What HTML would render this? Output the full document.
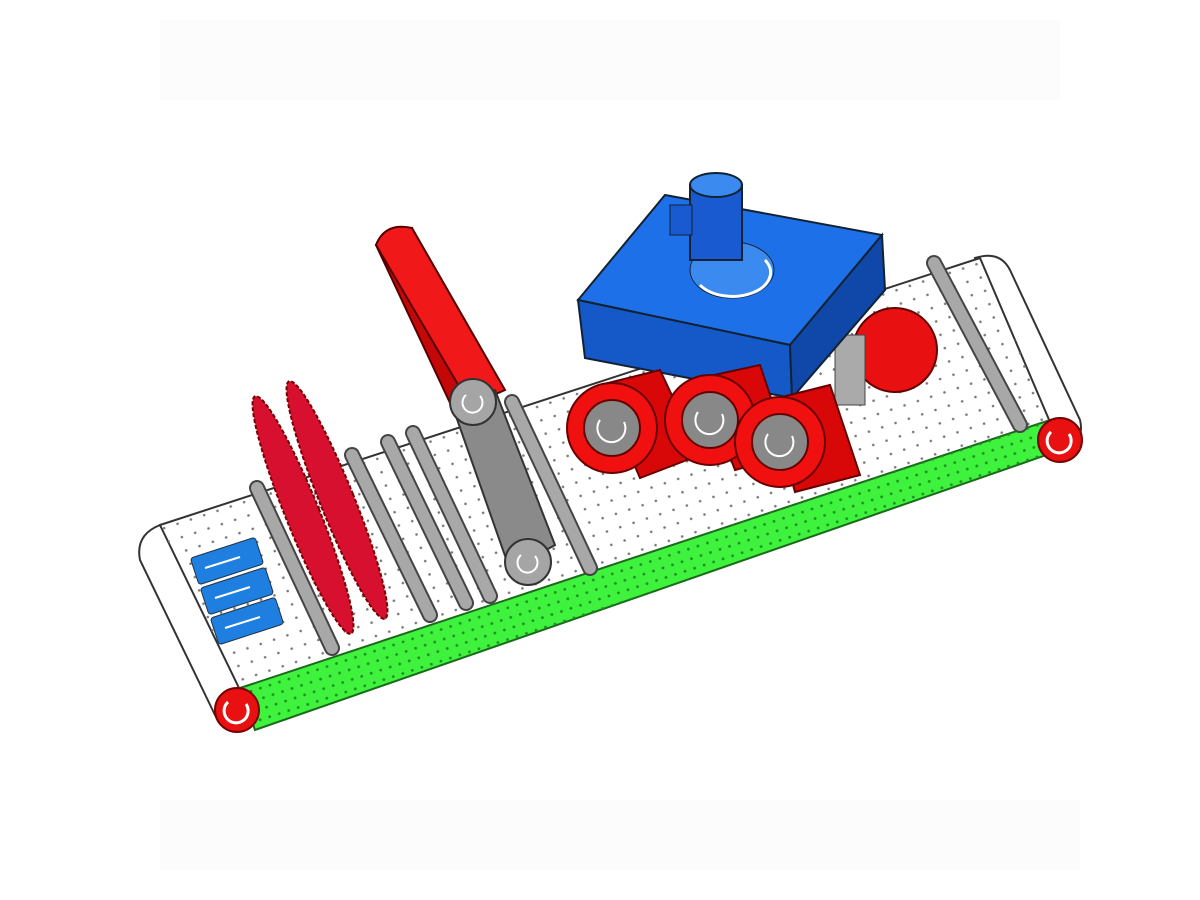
<!DOCTYPE html>
<html><head><meta charset="utf-8"><style>
html,body{margin:0;padding:0;background:#fff;width:1200px;height:900px;overflow:hidden}
</style></head><body>
<svg width="1200" height="900" viewBox="0 0 1200 900" xmlns="http://www.w3.org/2000/svg">
<defs>
<pattern id="dots" width="14" height="14" patternUnits="userSpaceOnUse" patternTransform="rotate(-18)">
<circle cx="7" cy="7" r="1.3" fill="#777"/></pattern>
<pattern id="gdots" width="10" height="10" patternUnits="userSpaceOnUse" patternTransform="rotate(-18)">
<circle cx="5" cy="5" r="1.4" fill="#1d8f1d"/></pattern>
</defs>
<rect x="160" y="20" width="900" height="80" fill="#fcfcfc"/>
<rect x="160" y="800" width="920" height="70" fill="#fcfcfc"/>
<!-- left end cap -->
<path d="M160 525 Q135 535 140 560 L215 715 Q225 735 245 730 L250 690 Z" fill="#fff" stroke="#333" stroke-width="2"/>
<!-- right end cap -->
<path d="M975 258 Q1000 250 1010 270 L1080 420 Q1085 440 1065 450 L1045 425 Z" fill="#fff" stroke="#333" stroke-width="2"/>
<!-- top surface -->
<polygon points="160,525 980,258 1050,422 240,690" fill="#fff" stroke="#333" stroke-width="2"/>
<polygon points="160,525 980,258 1050,422 240,690" fill="url(#dots)"/>
<!-- green side -->
<polygon points="240,688 1050,420 1075,445 255,730" fill="#3ef23e" stroke="#1a6a1a" stroke-width="2"/>
<polygon points="240,688 1050,420 1075,445 255,730" fill="url(#gdots)"/>
<!-- pulleys -->
<circle cx="237" cy="710" r="22" fill="#e81010" stroke="#700" stroke-width="2"/>
<path d="M228 702 A12 12 0 1 0 246 704" fill="none" stroke="#fff" stroke-width="3"/>
<circle cx="1060" cy="440" r="22" fill="#e81010" stroke="#700" stroke-width="2"/>
<path d="M1051 432 A12 12 0 1 0 1069 434" fill="none" stroke="#fff" stroke-width="3"/>
<!-- labels -->
<g fill="#1e7fe0" stroke="#234" stroke-width="1">
<rect x="193" y="547" width="68" height="28" rx="3" transform="rotate(-18 227 561)"/>
<rect x="203" y="577" width="68" height="28" rx="3" transform="rotate(-18 237 591)"/>
<rect x="213" y="607" width="68" height="28" rx="3" transform="rotate(-18 247 621)"/>
</g>
<g stroke="#fff" stroke-width="2">
<line x1="205" y1="568" x2="240" y2="557"/><line x1="215" y1="598" x2="250" y2="587"/><line x1="225" y1="628" x2="260" y2="617"/>
</g>
<!-- rods -->
<g stroke="#444" stroke-width="16" stroke-linecap="round">
<line x1="257" y1="488" x2="332" y2="648"/><line x1="352" y1="455" x2="430" y2="615"/>
<line x1="388" y1="442" x2="466" y2="603"/><line x1="413" y1="433" x2="490" y2="596"/>
<line x1="512" y1="402" x2="590" y2="568"/><line x1="934" y1="263" x2="1020" y2="425"/>
</g>
<g stroke="#a8a8a8" stroke-width="12" stroke-linecap="round">
<line x1="257" y1="488" x2="332" y2="648"/><line x1="352" y1="455" x2="430" y2="615"/>
<line x1="388" y1="442" x2="466" y2="603"/><line x1="413" y1="433" x2="490" y2="596"/>
<line x1="512" y1="402" x2="590" y2="568"/><line x1="934" y1="263" x2="1020" y2="425"/>
</g>
<!-- brushes -->
<g fill="#d81030" stroke="#700" stroke-width="2" stroke-dasharray="4 2">
<ellipse cx="303" cy="515" rx="17" ry="128" transform="rotate(-22 303 515)"/>
<ellipse cx="337" cy="500" rx="17" ry="128" transform="rotate(-22 337 500)"/>
</g>
<!-- tall red roller slab -->
<polygon points="376,245 412,228 548,540 520,565 458,420" fill="#c40808" stroke="#500" stroke-width="2"/>
<path d="M376 245 Q385 222 412 228 L505 390 L470 405 Z" fill="#f01818" stroke="#500" stroke-width="2"/>
<!-- gray roller -->
<polygon points="452,405 495,390 555,545 510,570" fill="#8a8a8a" stroke="#333" stroke-width="2"/>
<circle cx="473" cy="402" r="23" fill="#a5a5a5" stroke="#333" stroke-width="2"/>
<path d="M466 395 A10 10 0 1 0 480 396" fill="none" stroke="#fff" stroke-width="2"/>
<circle cx="528" cy="562" r="23" fill="#a5a5a5" stroke="#333" stroke-width="2"/>
<path d="M521 555 A10 10 0 1 0 535 556" fill="none" stroke="#fff" stroke-width="2"/>
<!-- back red wheels -->
<circle cx="895" cy="350" r="42" fill="#e81010" stroke="#600" stroke-width="2"/>
<rect x="835" y="335" width="30" height="70" fill="#aaa" stroke="#444"/>
<!-- blue box -->
<polygon points="578,300 665,195 882,235 790,345" fill="#1e70e8" stroke="#123" stroke-width="2"/>
<polygon points="578,300 790,345 792,398 585,358" fill="#1558c8" stroke="#123" stroke-width="2"/>
<polygon points="790,345 882,235 885,290 792,398" fill="#0f48a8" stroke="#123" stroke-width="2"/>
<ellipse cx="732" cy="270" rx="42" ry="28" fill="#3b8af0" stroke="#123"/>
<path d="M700 285 A35 22 0 0 0 765 260" fill="none" stroke="#fff" stroke-width="3"/>
<rect x="690" y="185" width="52" height="75" fill="#1a5ad0" stroke="#123" stroke-width="2"/>
<ellipse cx="716" cy="185" rx="26" ry="12" fill="#3b8af0" stroke="#123" stroke-width="2"/>
<rect x="670" y="205" width="22" height="30" fill="#1a5ad0" stroke="#123"/>
<!-- front red wheels -->
<g stroke="#600" stroke-width="2">
<polygon points="600,385 660,370 700,455 640,478" fill="#d80808"/>
<circle cx="612" cy="428" r="45" fill="#f01010"/><circle cx="612" cy="428" r="28" fill="#888"/>
<polygon points="700,378 760,365 790,455 735,470" fill="#d80808"/>
<circle cx="710" cy="420" r="45" fill="#f01010"/><circle cx="710" cy="420" r="28" fill="#888"/>
<polygon points="770,400 830,385 860,475 795,492" fill="#d80808"/>
<circle cx="780" cy="442" r="45" fill="#f01010"/><circle cx="780" cy="442" r="28" fill="#888"/>
</g>
<g fill="none" stroke="#fff" stroke-width="2">
<path d="M600 420 A14 14 0 1 0 624 422"/><path d="M698 412 A14 14 0 1 0 722 414"/><path d="M768 434 A14 14 0 1 0 792 436"/>
</g>
</svg>
</body></html>
